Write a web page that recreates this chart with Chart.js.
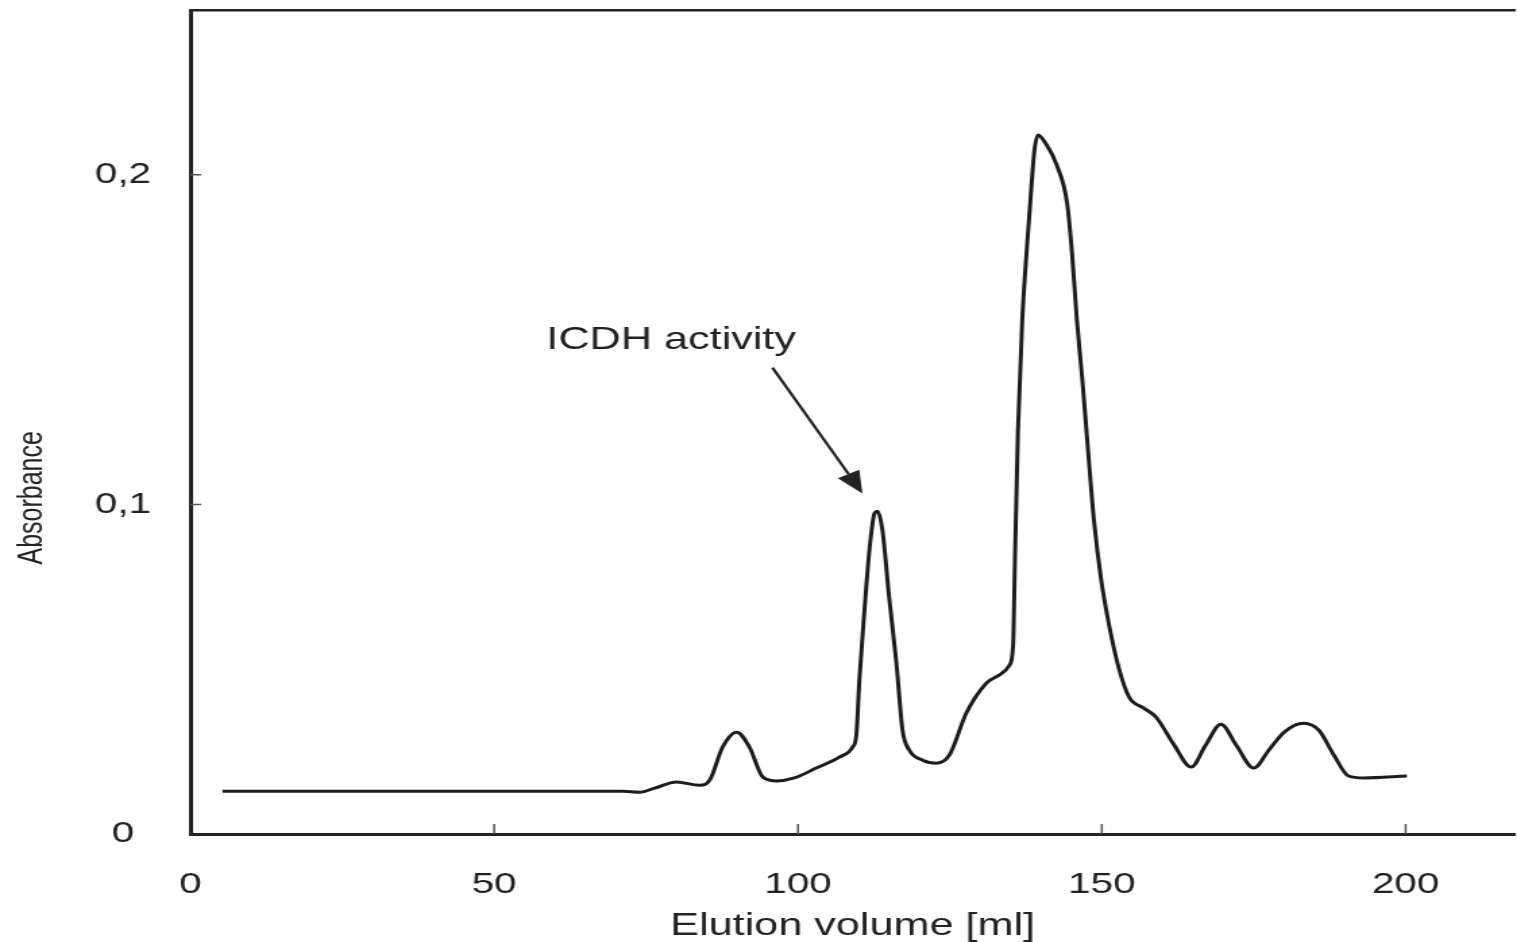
<!DOCTYPE html>
<html lang="en">
<head>
    <meta charset="UTF-8" />
    <title>Elution profile</title>
    <script src="https://cdn.jsdelivr.net/npm/chart.js"></script>
    <style>
        html, body { margin: 0; padding: 0; background: #fff; overflow: hidden; }
        /* the scanned figure is stretched sideways, so the chart is too */
        #wrap { width: 1124px; height: 942px; transform: scaleX(1.3497); transform-origin: 0 0; }
    </style>
</head>
<body>
    <div id="wrap"><canvas id="myChart"></canvas></div>

    <script>
        // elution volume (ml) and absorbance
        const volume = [
            5.3, 34.5, 71.2, 74.0, 76.4, 80.0, 83.8, 85.5, 87.6, 89.9,
            92.0, 94.2, 96.5, 99.4, 103.0, 106.8, 109.0, 109.6, 110.1, 110.9,
            111.8, 112.6, 113.1, 113.9, 115.0, 116.2, 117.2, 118.3, 120.5, 122.8,
            124.9, 127.7, 131.0, 133.1, 134.8, 135.4, 135.7, 136.2, 136.9, 137.6,
            138.4, 138.9, 139.5, 140.8, 142.5, 144.3, 145.1, 145.9, 146.8, 147.6,
            148.7, 149.9, 151.2, 152.8, 154.5, 156.9, 158.9, 161.9, 164.7, 167.1,
            169.6, 172.1, 175.0, 177.5, 180.0, 183.2, 185.7, 188.2, 190.6, 193.1,
            200.2
        ];
        const absorbance = [
            0.0130, 0.0130, 0.0130, 0.0127, 0.0139, 0.0158, 0.0148, 0.0164, 0.0264, 0.0309,
            0.0264, 0.0173, 0.0161, 0.0170, 0.0200, 0.0233, 0.0264, 0.0300, 0.0467, 0.0670,
            0.0870, 0.0973, 0.0979, 0.0921, 0.0718, 0.0518, 0.0315, 0.0255, 0.0224, 0.0215,
            0.0239, 0.0367, 0.0458, 0.0482, 0.0512, 0.0573, 0.0830, 0.1224, 0.1558, 0.1761,
            0.1961, 0.2073, 0.2121, 0.2094, 0.2033, 0.1912, 0.1761, 0.1558, 0.1376, 0.1194,
            0.0952, 0.0770, 0.0633, 0.0503, 0.0415, 0.0382, 0.0355, 0.0270, 0.0203, 0.0270,
            0.0333, 0.0270, 0.0200, 0.0255, 0.0309, 0.0336, 0.0315, 0.0239, 0.0176, 0.0170,
            0.0176
        ];

        const xTicks = [0, 50, 100, 150, 200];
        const yTicks = [0, 0.1, 0.2];
        const yTickLabels = ['0', '0,1', '0,2'];
        const xTitle = 'Elution volume [ml]';
        const yTitle = 'Absorbance';

        // annotation, in data units
        const noteText = 'ICDH activity';
        const notePos = [58.6, 0.1497];
        const arrowFrom = [95.8, 0.1415];
        const arrowTo = [110.6, 0.1033];

        const ink = '#222';
        const fontFam = "'Liberation Sans', Arial, Helvetica, sans-serif";
        Chart.defaults.font.family = fontFam;
        Chart.defaults.color = ink;

        // inward tick marks, rotated y title and the arrow note
        const extras = {
            id: 'extras',
            afterDraw(chart) {
                const ctx = chart.ctx;
                const x = chart.scales.x, y = chart.scales.y;
                const area = chart.chartArea;
                ctx.save();

                ctx.strokeStyle = '#555';
                ctx.lineWidth = 1.5;
                ctx.beginPath();
                xTicks.slice(1).forEach(v => {
                    const px = x.getPixelForValue(v);
                    ctx.moveTo(px, area.bottom);
                    ctx.lineTo(px, area.bottom - 10);
                });
                yTicks.slice(1).forEach(v => {
                    const py = y.getPixelForValue(v);
                    ctx.moveTo(area.left, py);
                    ctx.lineTo(area.left + 8, py);
                });
                ctx.stroke();

                // y title
                ctx.fillStyle = ink;
                ctx.font = '25px ' + fontFam;
                ctx.textAlign = 'center';
                ctx.textBaseline = 'middle';
                ctx.translate(24.5, y.getPixelForValue(0.102));
                ctx.rotate(-Math.PI / 2);
                ctx.fillText(yTitle, 0, 0);
                ctx.setTransform(1, 0, 0, 1, 0, 0);

                // note
                ctx.font = '32px ' + fontFam;
                ctx.textAlign = 'left';
                ctx.fillText(noteText, x.getPixelForValue(notePos[0]), y.getPixelForValue(notePos[1]));

                const x0 = x.getPixelForValue(arrowFrom[0]), y0 = y.getPixelForValue(arrowFrom[1]);
                const x1 = x.getPixelForValue(arrowTo[0]), y1 = y.getPixelForValue(arrowTo[1]);
                const a = Math.atan2(y1 - y0, x1 - x0);
                const hl = 22, hw = 9;
                const bx = x1 - hl * Math.cos(a), by = y1 - hl * Math.sin(a);
                ctx.strokeStyle = ink;
                ctx.lineWidth = 2.2;
                ctx.beginPath();
                ctx.moveTo(x0, y0);
                ctx.lineTo(bx, by);
                ctx.stroke();
                ctx.beginPath();
                ctx.moveTo(x1, y1);
                ctx.lineTo(bx + hw * Math.sin(a), by - hw * Math.cos(a));
                ctx.lineTo(bx - hw * Math.sin(a), by + hw * Math.cos(a));
                ctx.closePath();
                ctx.fill();

                ctx.restore();
            }
        };

        const ctx = document.getElementById('myChart').getContext('2d');

        new Chart(ctx, {
            type: 'line',
            data: {
                datasets: [{
                    data: volume.map((v, i) => ({ x: v, y: absorbance[i] })),
                    borderColor: '#1c1c1c',
                    borderWidth: 3,
                    pointRadius: 0,
                    fill: false,
                    cubicInterpolationMode: 'monotone'
                }]
            },
            options: {
                responsive: true,
                maintainAspectRatio: false,
                animation: false,
                layout: { padding: { top: 10, right: 0, bottom: 0, left: 0 } },
                plugins: {
                    legend: { display: false },
                    tooltip: { enabled: false }
                },
                scales: {
                    x: {
                        type: 'linear',
                        min: 0,
                        max: 218,
                        afterBuildTicks: s => { s.ticks = xTicks.map(v => ({ value: v })); },
                        afterFit: s => { s.height = 108; s.paddingLeft = 0; s.paddingRight = 0; },
                        grid: { display: false },
                        border: { display: true, width: 3, color: ink },
                        ticks: {
                            font: { size: 30 },
                            color: ink,
                            padding: 25,
                            maxRotation: 0,
                            autoSkip: false
                        },
                        title: {
                            display: true,
                            text: xTitle,
                            font: { size: 32 },
                            color: ink,
                            padding: { top: 0, bottom: -3 }
                        }
                    },
                    xTop: {
                        type: 'linear',
                        position: 'top',
                        min: 0,
                        max: 218,
                        afterFit: s => { s.height = 0; s.paddingLeft = 0; s.paddingRight = 0; },
                        grid: { display: false },
                        ticks: { display: false },
                        border: { display: true, width: 2.5, color: ink }
                    },
                    y: {
                        min: 0,
                        max: 0.25,
                        afterBuildTicks: s => { s.ticks = yTicks.map(v => ({ value: v })); },
                        afterFit: s => { s.width = 141; s.paddingTop = 0; s.paddingBottom = 0; },
                        grid: { display: false },
                        border: { display: true, width: 3, color: ink },
                        ticks: {
                            font: { size: 30 },
                            color: ink,
                            padding: 21,
                            crossAlign: 'center',
                            callback: v => yTickLabels[yTicks.indexOf(v)]
                        }
                    }
                }
            },
            plugins: [extras]
        });
    </script>
</body>
</html>
